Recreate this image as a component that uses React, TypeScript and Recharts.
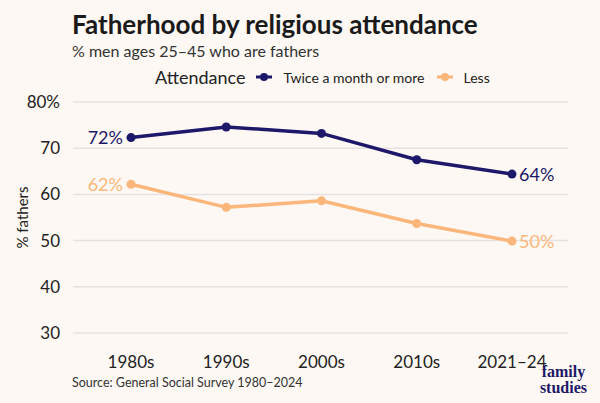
import React from 'react';
import { LineChart, Line, XAxis, YAxis, CartesianGrid, LabelList } from 'recharts';

const periods = ['1980s', '1990s', '2000s', '2010s', '2021–24'];
const frequent = [72.3, 74.6, 73.2, 67.5, 64.4];
const less = [62.2, 57.2, 58.6, 53.7, 49.9];
const yTicks = [30, 40, 50, 60, 70, 80];

const NAVY = '#1d1869';
const PEACH = '#fbb77b';
const BG = '#fdf8f3';
const FONT = 'Lato, "Open Sans", sans-serif';

const data = periods.map((p, i) => ({ period: p, frequent: frequent[i], less: less[i] }));

const endLabel = (color: string) => (props: any) => {
  const { x, y, index, value } = props;
  if (index !== 0 && index !== periods.length - 1) return null;
  const first = index === 0;
  return (
    <text
      x={first ? x - 8 : x + 7}
      y={y}
      dy="0.36em"
      textAnchor={first ? 'end' : 'start'}
      fill={color}
      fontSize={18}
      fontFamily={FONT}
    >
      {Math.round(value)}%
    </text>
  );
};

const LegendBox = () => (
  <div
    style={{
      position: 'absolute',
      left: 155,
      top: 66,
      display: 'flex',
      alignItems: 'center',
      fontFamily: FONT,
      color: '#222',
    }}
  >
    <span style={{ fontSize: 18, marginRight: 11 }}>Attendance</span>
    {[
      { c: NAVY, t: 'Twice a month or more' },
      { c: PEACH, t: 'Less' },
    ].map((it) => (
      <span key={it.t} style={{ display: 'flex', alignItems: 'center', marginRight: 12 }}>
        <svg width={16} height={10} style={{ marginRight: 11 }}>
          <line x1={0} y1={5} x2={16} y2={5} stroke={it.c} strokeWidth={3} />
          <circle cx={8} cy={5} r={4} fill={it.c} />
        </svg>
        <span style={{ fontSize: 14 }}>{it.t}</span>
      </span>
    ))}
  </div>
);

const App = () => {
  return (
    <div
      style={{
        position: 'fixed',
        top: 0,
        left: 0,
        width: 600,
        height: 403,
        background: BG,
        fontFamily: FONT,
        overflow: 'hidden',
      }}
    >
      <div style={{ position: 'absolute', left: 72, top: 8, fontSize: 26, fontWeight: 700, color: '#1a1a1a' }}>
        Fatherhood by religious attendance
      </div>
      <div style={{ position: 'absolute', left: 72, top: 41, fontSize: 16, color: '#333' }}>
        % men ages 25–45 who are fathers
      </div>
      <LegendBox />
      <LineChart width={600} height={403} data={data} margin={{ top: 102, right: 32, bottom: 40, left: 0 }}>
        <CartesianGrid vertical={false} stroke="#e6e2e4" strokeWidth={1.5} />
        <XAxis
          dataKey="period"
          height={30}
          axisLine={false}
          tickLine={false}
          padding={{ left: 58, right: 56 }}
          tickMargin={17}
          tick={{ fontSize: 17, fill: '#222', fontFamily: FONT }}
        />
        <YAxis
          domain={[30, 80]}
          ticks={yTicks}
          width={73}
          axisLine={false}
          tickLine={false}
          tickMargin={7}
          tickFormatter={(v: number) => (v === 80 ? '80%' : String(v))}
          tick={{ fontSize: 17, fill: '#222', fontFamily: FONT }}
          label={{
            content: (p: any) => {
              const vb = p.viewBox || {};
              const cy = (vb.y || 0) + (vb.height || 0) / 2;
              return (
                <text
                  x={22}
                  y={cy}
                  transform={`rotate(-90, 22, ${cy})`}
                  textAnchor="middle"
                  dominantBaseline="central"
                  fontSize={15}
                  fill="#222"
                  fontFamily={FONT}
                >
                  % fathers
                </text>
              );
            },
          }}
        />
        <Line
          type="linear"
          dataKey="frequent"
          stroke={NAVY}
          strokeWidth={3.5}
          dot={{ r: 4.5, fill: NAVY, stroke: NAVY, strokeWidth: 0 }}
          isAnimationActive={false}
        >
          <LabelList dataKey="frequent" content={endLabel(NAVY)} />
        </Line>
        <Line
          type="linear"
          dataKey="less"
          stroke={PEACH}
          strokeWidth={3.5}
          dot={{ r: 4.5, fill: PEACH, stroke: PEACH, strokeWidth: 0 }}
          isAnimationActive={false}
        >
          <LabelList dataKey="less" content={endLabel(PEACH)} />
        </Line>
      </LineChart>
      <div style={{ position: 'absolute', left: 72, top: 375, fontSize: 12.5, color: '#333' }}>
        Source: General Social Survey 1980–2024
      </div>
      <div
        style={{
          position: 'absolute',
          right: 13,
          top: 364,
          fontFamily: '"Liberation Serif", serif',
          fontWeight: 700,
          fontSize: 16,
          lineHeight: '16px',
          color: NAVY,
          textAlign: 'center',
        }}
      >
        family
        <br />
        studies
      </div>
    </div>
  );
};

export default App;
